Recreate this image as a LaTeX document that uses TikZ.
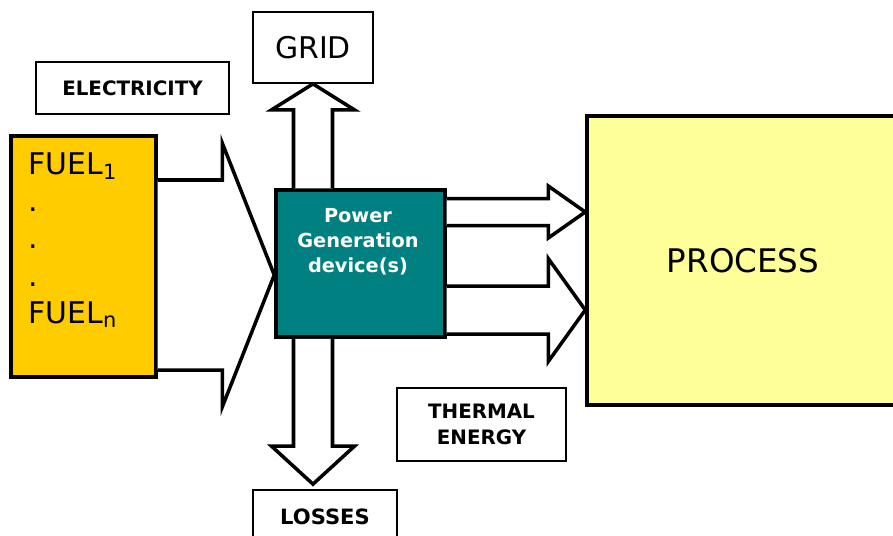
\documentclass[tikz,border=0pt]{standalone}
\usepackage{fontspec}
\setmainfont{DejaVu Sans}
\usetikzlibrary{calc,positioning}
\definecolor{fuelyellow}{HTML}{FFCC00}
\definecolor{powerteal}{HTML}{008080}
\definecolor{processyellow}{HTML}{FFFF99}

\begin{document}
\begin{tikzpicture}[x=0.02cm,y=-0.02cm,
    labelbox/.style={draw, line width=1pt, fill=white, inner sep=0pt},
    unitbox/.style={draw, line width=2pt, inner sep=0pt},
    blockarrow/.style={draw, fill=white, line width=2pt, line join=miter}]
    \useasboundingbox (0,0) rectangle (893,535);
    % units
    \node[unitbox, fill=fuelyellow, minimum width=2.9cm, minimum height=4.82cm] (fuel) at (83.5,256.5) {};
    \node[unitbox, fill=powerteal, minimum width=3.38cm, minimum height=2.94cm] (power) at (360.5,263.5) {};
    \node[unitbox, fill=processyellow, minimum width=6.24cm, minimum height=5.78cm,
          font=\fontsize{18.5}{22}\selectfont] (process) at (743,260.5) {PROCESS};
    % texts inside the units
    \node[anchor=north west, inner sep=0pt, align=left, font=\fontsize{17}{21.2}\selectfont]
        (fueltext) at ($(fuel.north west)+(19,18)$)
        {FUEL\textsubscript{1}\\.\\.\\.\\FUEL\textsubscript{n}};
    \node[anchor=north, inner sep=0pt, align=center, text=white, font=\bfseries\fontsize{11}{14.2}\selectfont]
        (powertext) at ($(power.north)+(-2.5,20)$) {Power\\Generation\\device(s)};
    % label boxes
    \node[labelbox, minimum width=2.4cm, minimum height=1.42cm, font=\fontsize{17}{20}\selectfont]
        (grid) at (313,47.5) {GRID};
    \node[labelbox, minimum width=3.86cm, minimum height=1.04cm, font=\bfseries\fontsize{11.3}{13}\selectfont]
        (electricity) at (132.5,88) {ELECTRICITY};
    \node[labelbox, minimum width=3.38cm, minimum height=1.46cm, align=center,
          font=\bfseries\fontsize{11.3}{14.7}\selectfont] (thermal) at (481.5,424.5) {THERMAL\\ENERGY};
    \node[labelbox, minimum width=2.88cm, minimum height=1.08cm, font=\bfseries\fontsize{12}{14}\selectfont]
        (losses) at (325,517) {LOSSES};
    % fuel into the device
    \coordinate (fueltip) at ($(power.west)+(0,11.5)$);
    \draw[blockarrow] ($(fuel.east |- fueltip)+(0,-95)$) -- ($(fueltip)+(-52,-95)$)
        -- ($(fueltip)+(-52,-132)$) -- (fueltip) -- ($(fueltip)+(-52,132)$)
        -- ($(fueltip)+(-52,95)$) -- ($(fuel.east |- fueltip)+(0,95)$);
    % electricity to the grid
    \coordinate (gridtip) at (grid.south);
    \coordinate (gridfoot) at (power.north -| grid.south);
    \draw[blockarrow] ($(gridfoot)+(-19.5,0)$) -- ($(gridtip)+(-19.5,26)$)
        -- ($(gridtip)+(-41.5,26)$) -- (gridtip) -- ($(gridtip)+(41.5,26)$)
        -- ($(gridtip)+(19.5,26)$) -- ($(gridfoot)+(19.5,0)$);
    % losses
    \coordinate (losstip) at ($(losses.north -| grid.south)+(0,-5)$);
    \coordinate (lossfoot) at (power.south -| grid.south);
    \draw[blockarrow] ($(lossfoot)+(-19.5,0)$) -- ($(losstip)+(-19.5,-38)$)
        -- ($(losstip)+(-41.5,-38)$) -- (losstip) -- ($(losstip)+(41.5,-38)$)
        -- ($(losstip)+(19.5,-38)$) -- ($(lossfoot)+(19.5,0)$);
    % thermal energy to the process
    \foreach \dy/\shaft/\head in {-48.5/13.5/26, 49.5/24/51.5}{
        \coordinate (heattip) at ($(process.west)+(0,\dy)$);
        \draw[blockarrow] ($(power.east |- heattip)+(0,-\shaft)$) -- ($(heattip)+(-37,-\shaft)$)
            -- ($(heattip)+(-37,-\head)$) -- (heattip) -- ($(heattip)+(-37,\head)$)
            -- ($(heattip)+(-37,\shaft)$) -- ($(power.east |- heattip)+(0,\shaft)$);
    }
\end{tikzpicture}
\end{document}
